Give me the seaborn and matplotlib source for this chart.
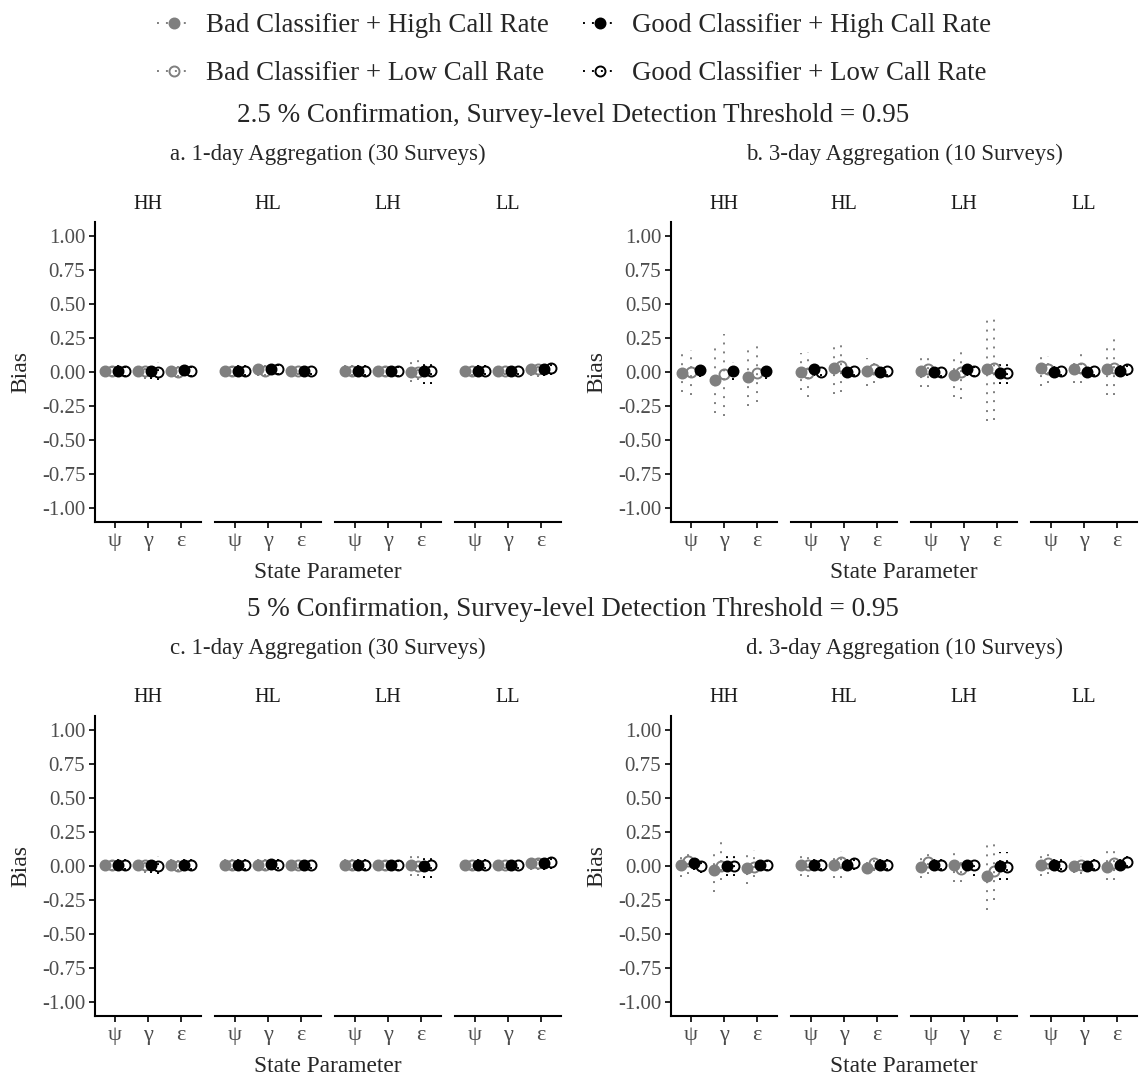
import numpy as np
import pandas as pd
import matplotlib
matplotlib.use("Agg")
import matplotlib.pyplot as plt
from matplotlib.lines import Line2D
import seaborn as sns

# ---------------------------------------------------------------- data
SCENARIOS = ["HH", "HL", "LH", "LL"]
PARAMS = ["ψ", "γ", "ε"]
SERIES = ["Bad Classifier + High Call Rate", "Bad Classifier + Low Call Rate",
          "Good Classifier + High Call Rate", "Good Classifier + Low Call Rate"]
Y_TICKS = [1.00, 0.75, 0.50, 0.25, 0.00, -0.25, -0.50, -0.75, -1.00]

# Each row is a series (order of SERIES); each column is scenario x parameter:
# HH(ψ,γ,ε), HL(ψ,γ,ε), LH(ψ,γ,ε), LL(ψ,γ,ε)
nan = np.nan

# a. 2.5 % confirmation, 1-day aggregation
A_EST = [[0.01, 0.01, 0.01, 0.01, 0.02, 0.01, 0.01, 0.01, 0.00, 0.01, 0.01, 0.02],
         [0.01, 0.005, 0.00, 0.01, 0.01, 0.01, 0.01, 0.01, 0.00, 0.01, 0.01, 0.02],
         [0.01, 0.01, 0.015, 0.01, 0.02, 0.01, 0.01, 0.01, 0.01, 0.01, 0.01, 0.02],
         [0.01, 0.00, 0.01, 0.01, 0.02, 0.01, 0.01, 0.01, 0.01, 0.01, 0.01, 0.03]]
A_LO = [[-0.04, -0.04, -0.04, -0.04, -0.03, -0.02, -0.03, -0.04, -0.07, -0.03, -0.02, -0.03],
        [-0.04, -0.05, -0.04, -0.04, -0.03, -0.02, -0.03, -0.04, -0.06, -0.03, -0.02, -0.04],
        [-0.03, -0.05, -0.03, -0.03, -0.02, -0.02, -0.03, -0.04, -0.09, -0.02, -0.02, -0.03],
        [-0.04, -0.06, -0.04, -0.03, -0.02, -0.02, -0.03, -0.04, -0.09, -0.02, -0.02, -0.02]]
A_HI = [[0.05, 0.06, 0.06, 0.05, 0.06, 0.04, 0.05, 0.06, 0.08, 0.04, 0.03, 0.07],
        [0.06, 0.07, 0.06, 0.05, 0.07, 0.04, 0.05, 0.06, 0.09, 0.04, 0.04, 0.09],
        [0.05, 0.07, 0.06, 0.05, 0.05, 0.04, 0.05, 0.06, 0.10, 0.05, 0.04, 0.06],
        [0.05, 0.07, 0.05, 0.05, 0.05, 0.04, 0.05, 0.06, 0.10, 0.05, 0.04, 0.07]]

# b. 2.5 % confirmation, 3-day aggregation
B_EST = [[-0.01, -0.06, -0.035, 0.00, 0.03, 0.01, 0.01, -0.02, 0.025, 0.03, 0.02, 0.02],
         [0.00, -0.015, -0.01, -0.01, 0.045, 0.02, 0.02, 0.00, 0.03, 0.02, 0.03, 0.03],
         [0.015, 0.01, 0.01, 0.02, 0.00, 0.00, 0.00, 0.02, -0.005, 0.00, 0.00, 0.005],
         [nan, nan, nan, 0.00, 0.01, 0.01, 0.00, 0.01, -0.01, 0.005, 0.005, 0.02]]
B_LO = [[-0.15, -0.30, -0.25, -0.13, -0.16, -0.10, -0.11, -0.18, -0.36, -0.10, -0.08, -0.17],
        [-0.17, -0.32, -0.22, -0.18, -0.15, -0.08, -0.11, -0.20, -0.35, -0.08, -0.08, -0.17],
        [-0.04, -0.06, -0.05, -0.03, -0.03, -0.03, -0.03, -0.03, -0.09, -0.04, -0.03, -0.03],
        [nan, nan, nan, -0.03, -0.03, -0.03, -0.04, -0.04, -0.09, -0.03, -0.03, -0.03]]
B_HI = [[0.14, 0.20, 0.18, 0.14, 0.21, 0.10, 0.11, 0.14, 0.40, 0.15, 0.10, 0.22],
        [0.16, 0.28, 0.20, 0.15, 0.22, 0.11, 0.15, 0.19, 0.42, 0.12, 0.15, 0.25],
        [0.07, 0.075, 0.07, 0.07, 0.04, 0.04, 0.04, 0.07, 0.09, 0.05, 0.04, 0.05],
        [nan, nan, nan, 0.04, 0.04, 0.04, 0.04, 0.04, 0.09, 0.04, 0.04, 0.07]]

# c. 5 % confirmation, 1-day aggregation
C_EST = [[0.01, 0.01, 0.01, 0.01, 0.01, 0.01, 0.01, 0.01, 0.01, 0.01, 0.005, 0.02],
         [0.01, 0.01, 0.00, 0.01, 0.01, 0.01, 0.01, 0.01, 0.00, 0.01, 0.005, 0.02],
         [0.01, 0.005, 0.01, 0.01, 0.015, 0.01, 0.01, 0.01, 0.00, 0.01, 0.005, 0.02],
         [0.01, 0.00, 0.01, 0.01, 0.01, 0.01, 0.01, 0.01, 0.01, 0.01, 0.01, 0.03]]
C_LO = [[-0.04, -0.04, -0.03, -0.03, -0.03, -0.02, -0.03, -0.04, -0.07, -0.03, -0.02, -0.03],
        [-0.04, -0.05, -0.04, -0.03, -0.03, -0.02, -0.03, -0.04, -0.07, -0.03, -0.02, -0.03],
        [-0.03, -0.05, -0.03, -0.03, -0.02, -0.02, -0.03, -0.04, -0.09, -0.02, -0.02, -0.03],
        [-0.03, -0.06, -0.03, -0.03, -0.02, -0.02, -0.03, -0.04, -0.09, -0.02, -0.02, -0.02]]
C_HI = [[0.05, 0.06, 0.05, 0.05, 0.05, 0.04, 0.05, 0.06, 0.08, 0.04, 0.03, 0.07],
        [0.05, 0.07, 0.05, 0.05, 0.05, 0.04, 0.05, 0.06, 0.09, 0.04, 0.03, 0.08],
        [0.05, 0.07, 0.05, 0.05, 0.05, 0.04, 0.05, 0.06, 0.10, 0.05, 0.04, 0.06],
        [0.05, 0.07, 0.05, 0.05, 0.05, 0.04, 0.05, 0.06, 0.10, 0.05, 0.04, 0.07]]

# d. 5 % confirmation, 3-day aggregation
D_EST = [[0.01, -0.03, -0.015, 0.01, 0.01, -0.015, -0.005, 0.01, -0.07, 0.01, 0.00, -0.01],
         [0.035, 0.00, -0.01, 0.01, 0.03, 0.02, 0.03, -0.02, -0.035, 0.02, 0.005, 0.02],
         [0.02, 0.00, 0.01, 0.01, 0.01, 0.01, 0.01, 0.01, 0.00, 0.01, 0.00, 0.01],
         [0.00, 0.00, 0.01, 0.01, 0.02, 0.01, 0.01, 0.01, -0.01, 0.00, 0.01, 0.03]]
D_LO = [[-0.08, -0.19, -0.13, -0.07, -0.09, -0.05, -0.09, -0.12, -0.32, -0.07, -0.05, -0.10],
        [-0.06, -0.10, -0.08, -0.08, -0.09, -0.04, -0.06, -0.12, -0.25, -0.06, -0.06, -0.10],
        [-0.03, -0.07, -0.04, -0.03, -0.03, -0.03, -0.03, -0.04, -0.10, -0.03, -0.03, -0.03],
        [-0.05, -0.07, -0.04, -0.03, -0.03, -0.03, -0.03, -0.07, -0.10, -0.03, -0.03, -0.01]]
D_HI = [[0.10, 0.13, 0.10, 0.09, 0.10, 0.05, 0.08, 0.12, 0.18, 0.09, 0.06, 0.12],
        [0.12, 0.18, 0.12, 0.09, 0.11, 0.08, 0.12, 0.03, 0.20, 0.09, 0.07, 0.14],
        [0.06, 0.07, 0.06, 0.05, 0.05, 0.05, 0.05, 0.05, 0.10, 0.05, 0.04, 0.05],
        [0.05, 0.07, 0.06, 0.05, 0.05, 0.05, 0.05, 0.05, 0.10, 0.05, 0.05, 0.08]]

# ---------------------------------------------------------------- style
GREY = "#7f7f7f"
PALETTE = dict(zip(SERIES, [GREY, GREY, "black", "black"]))
OPEN = {SERIES[1], SERIES[3]}
DOTS = (0, (1, 3.6))
MS, MEW, LW = 7.2, 1.4, 1.4

sns.set_theme(style="white")
plt.rcParams["font.family"] = ["Liberation Serif", "DejaVu Serif"]
plt.rcParams["axes.linewidth"] = 1.5

W, H = 1139, 1076
fig = plt.figure(figsize=(W / 100, H / 100), dpi=100)


def fx(px):
    return px / W


def fy(py):
    return 1 - py / H


def long_table(est, lo, hi):
    rows = []
    for s, name in enumerate(SERIES):
        for k in range(len(SCENARIOS) * len(PARAMS)):
            if np.isnan(est[s][k]):
                continue
            scen, par = SCENARIOS[k // 3], PARAMS[k % 3]
            for v in (lo[s][k], est[s][k], hi[s][k]):
                rows.append({"series": name, "scenario": scen, "param": par, "bias": v})
    return pd.DataFrame(rows)


def draw_facet(ax, sub, first):
    levels = [s for s in SERIES if s in set(sub["series"])]
    n = len(levels)
    sns.pointplot(data=sub, x="param", y="bias", hue="series", order=PARAMS,
                  hue_order=levels, palette=PALETTE, estimator="median",
                  errorbar=("pi", 100), dodge=0.8 * (n - 1) / n, linestyle="none",
                  markers="o", markersize=MS, markeredgewidth=MEW,
                  err_kws={"linestyle": DOTS, "linewidth": LW},
                  legend=False, ax=ax)
    marker_lines = [ln for ln in ax.lines if ln.get_marker() not in ("None", "", None)]
    for ln in ax.lines:
        ln.set_zorder(2)
    for ln, name in zip(marker_lines, levels):
        ln.set_zorder(3)
        if name in OPEN:
            ln.set_markerfacecolor("none")
    ax.set_xlim(-0.6, 2.6)
    ax.set_ylim(-1.1, 1.1)
    ax.set_xlabel("")
    ax.set_ylabel("")
    ax.tick_params(axis="x", length=4, width=1.2, color="black", labelsize=16,
                   labelcolor="#4d4d4d", pad=3, bottom=True)
    for sp in ("top", "right"):
        ax.spines[sp].set_visible(False)
    ax.spines["bottom"].set_color("black")
    ax.set_yticks(Y_TICKS)
    if first:
        ax.spines["left"].set_color("black")
        ax.set_yticklabels([f"{t:.2f}" for t in Y_TICKS])
        ax.tick_params(axis="y", length=4, width=1.2, color="black", labelsize=15,
                       labelcolor="#4d4d4d", pad=3, left=True)
    else:
        ax.spines["left"].set_visible(False)
        ax.tick_params(axis="y", left=False, labelleft=False)
    ax.grid(False)


PANELS = [
    ("a. 1-day Aggregation (30 Surveys)", A_EST, A_LO, A_HI, 95, 222),
    ("b. 3-day Aggregation (10 Surveys)", B_EST, B_LO, B_HI, 671, 222),
    ("c. 1-day Aggregation (30 Surveys)", C_EST, C_LO, C_HI, 95, 716),
    ("d. 3-day Aggregation (10 Surveys)", D_EST, D_LO, D_HI, 671, 716),
]
FACET_W, FACET_STEP, AX_H = 106, 120, 300

for title, est, lo, hi, x0, y0 in PANELS:
    df = long_table(est, lo, hi)
    for i, scen in enumerate(SCENARIOS):
        left = x0 + i * FACET_STEP
        ax = fig.add_axes([fx(left), fy(y0 + AX_H), fx(FACET_W), AX_H / H])
        draw_facet(ax, df[df["scenario"] == scen], i == 0)
        fig.text(fx(left + FACET_W / 2), fy(y0 - 18), scen, ha="center", va="center",
                 fontsize=14.5, color="#1a1a1a")
    span_c = x0 + (3 * FACET_STEP + FACET_W) / 2
    fig.text(fx(span_c), fy(y0 - 68), title, ha="center", va="center", fontsize=16.5)
    fig.text(fx(span_c), fy(y0 + AX_H + 50), "State Parameter", ha="center",
             va="center", fontsize=16.8)
    fig.text(fx(x0 - 74), fy(y0 + AX_H / 2), "Bias", ha="center", va="center",
             rotation=90, fontsize=17)

fig.text(fx(573), fy(115), "2.5 % Confirmation, Survey-level Detection Threshold = 0.95",
         ha="center", va="center", fontsize=19.5)
fig.text(fx(573), fy(609), "5 % Confirmation, Survey-level Detection Threshold = 0.95",
         ha="center", va="center", fontsize=19.5)

handles = [Line2D([], [], color=PALETTE[s], linestyle=DOTS, linewidth=LW, marker="o",
                  markersize=MS, markeredgewidth=MEW,
                  markerfacecolor="none" if s in OPEN else PALETTE[s])
           for s in SERIES]
fig.legend(handles, SERIES, ncol=2, loc="upper center", bbox_to_anchor=(fx(574), 1.010),
           frameon=False, fontsize=19.4, handlelength=1.25, handletextpad=0.55,
           columnspacing=1.3, labelspacing=0.84)

fig.savefig("out.png", dpi=100)
